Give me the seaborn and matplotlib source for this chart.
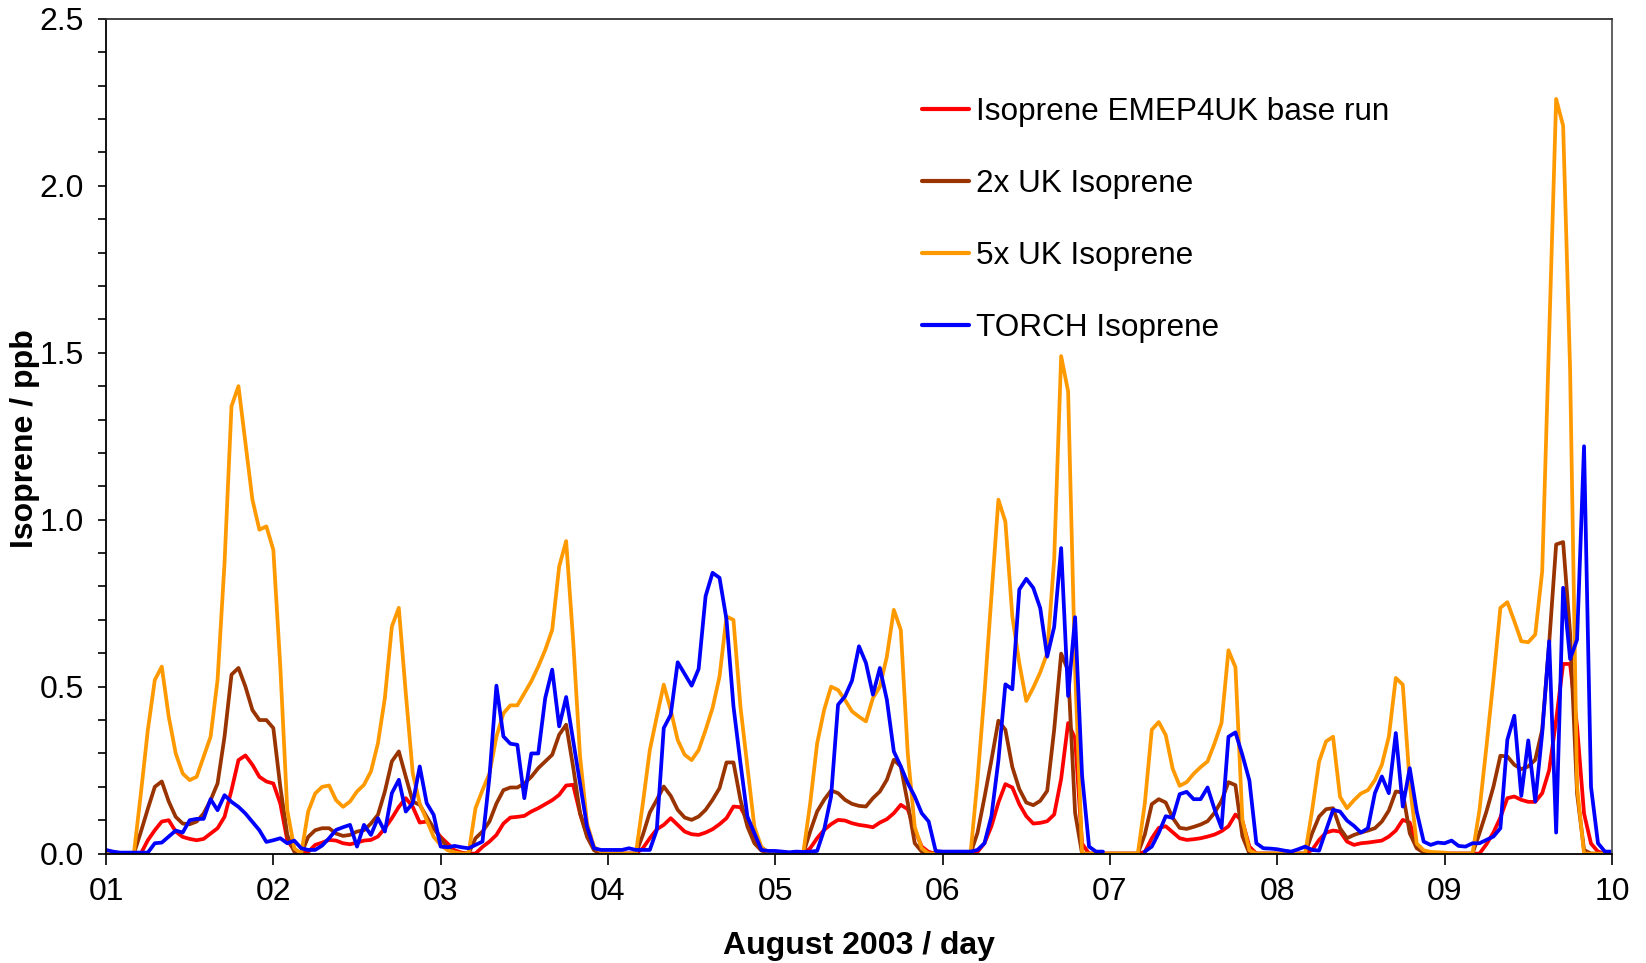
import numpy as np
import pandas as pd
import seaborn as sns
import matplotlib
matplotlib.use("Agg")
import matplotlib.pyplot as plt
from matplotlib.lines import Line2D
from matplotlib.ticker import MultipleLocator, FixedLocator

# Hourly isoprene mixing ratios (ppb), 1 Aug 2003 00:00 to 10 Aug 2003 00:00
hours = np.arange(217)
day_axis = 1 + hours / 24.0

base_run = [
    0, 0, 0, 0, 0, 0, 0.04, 0.07, 0.096, 0.10, 0.066, 0.05, 0.044, 0.04, 0.044, 0.06, 0.076, 0.11, 0.19, 0.28, 0.294, 0.266, 0.23, 0.216,
    0.21, 0.15, 0.04, 0.01, 0, 0.005, 0.026, 0.033, 0.041, 0.039, 0.031, 0.028, 0.033, 0.039, 0.041, 0.051, 0.076, 0.106, 0.14, 0.166, 0.14, 0.093, 0.096, 0.076,
    0.05, 0.03, 0.01, 0.003, 0, 0, 0.02, 0.036, 0.056, 0.09, 0.108, 0.11, 0.113, 0.126, 0.136, 0.148, 0.16, 0.176, 0.204, 0.206, 0.12, 0.056, 0.016, 0.003,
    0, 0, 0, 0, 0, 0.016, 0.046, 0.073, 0.086, 0.106, 0.086, 0.066, 0.058, 0.056, 0.063, 0.073, 0.088, 0.106, 0.141, 0.139, 0.10, 0.046, 0.016, 0.003,
    0, 0, 0, 0, 0, 0.016, 0.046, 0.071, 0.088, 0.101, 0.099, 0.091, 0.086, 0.083, 0.079, 0.093, 0.103, 0.121, 0.146, 0.133, 0.071, 0.021, 0.005, 0,
    0, 0, 0, 0, 0, 0.005, 0.031, 0.082, 0.153, 0.208, 0.198, 0.148, 0.112, 0.09, 0.092, 0.097, 0.117, 0.224, 0.391, 0.345, 0.03, 0, 0, 0,
    0, 0, 0, 0, 0, 0.005, 0.046, 0.077, 0.082, 0.064, 0.046, 0.041, 0.043, 0.046, 0.051, 0.057, 0.067, 0.082, 0.117, 0.097, 0.021, 0, 0, 0,
    0, 0, 0, 0, 0, 0.011, 0.041, 0.063, 0.069, 0.066, 0.036, 0.026, 0.031, 0.033, 0.036, 0.039, 0.051, 0.069, 0.101, 0.093, 0.026, 0.006, 0, 0,
    0, 0, 0, 0, 0, 0, 0.028, 0.063, 0.108, 0.166, 0.171, 0.161, 0.155, 0.155, 0.181, 0.25, 0.40, 0.568, 0.568, 0.38, 0.12, 0.03, 0.006, 0,
    0,
]

uk_x2 = [
    0, 0, 0, 0, 0, 0.065, 0.134, 0.20, 0.216, 0.156, 0.11, 0.09, 0.088, 0.096, 0.12, 0.16, 0.21, 0.35, 0.536, 0.556, 0.50, 0.43, 0.40, 0.40,
    0.376, 0.2, 0.056, 0.006, 0, 0.05, 0.07, 0.076, 0.076, 0.06, 0.053, 0.056, 0.066, 0.07, 0.09, 0.116, 0.186, 0.276, 0.306, 0.23, 0.156, 0.146, 0.11, 0.076,
    0.046, 0.016, 0.003, 0, 0, 0.046, 0.066, 0.096, 0.15, 0.19, 0.198, 0.198, 0.21, 0.23, 0.256, 0.276, 0.296, 0.356, 0.386, 0.26, 0.12, 0.05, 0.01, 0,
    0, 0, 0, 0, 0, 0.056, 0.123, 0.161, 0.201, 0.173, 0.131, 0.108, 0.101, 0.111, 0.131, 0.161, 0.196, 0.273, 0.273, 0.161, 0.081, 0.031, 0.009, 0.002,
    0, 0, 0, 0, 0, 0.066, 0.126, 0.161, 0.189, 0.181, 0.161, 0.149, 0.143, 0.141, 0.166, 0.186, 0.221, 0.281, 0.261, 0.151, 0.031, 0.006, 0, 0,
    0, 0, 0, 0, 0, 0.062, 0.168, 0.28, 0.398, 0.371, 0.259, 0.193, 0.153, 0.145, 0.158, 0.188, 0.371, 0.599, 0.548, 0.122, 0, 0, 0, 0,
    0, 0, 0, 0, 0, 0.057, 0.148, 0.163, 0.153, 0.107, 0.077, 0.074, 0.08, 0.087, 0.097, 0.122, 0.158, 0.214, 0.205, 0.052, 0, 0, 0, 0,
    0, 0, 0, 0, 0, 0.061, 0.111, 0.133, 0.136, 0.076, 0.046, 0.056, 0.063, 0.069, 0.076, 0.096, 0.129, 0.186, 0.183, 0.061, 0.016, 0.003, 0, 0,
    0, 0, 0, 0, 0, 0.061, 0.126, 0.20, 0.293, 0.291, 0.266, 0.253, 0.261, 0.281, 0.371, 0.631, 0.926, 0.933, 0.66, 0.18, 0.011, 0, 0, 0,
    0,
]

uk_x5 = [
    0, 0, 0, 0, 0, 0.18, 0.37, 0.52, 0.56, 0.41, 0.30, 0.24, 0.22, 0.23, 0.29, 0.35, 0.52, 0.87, 1.34, 1.40, 1.23, 1.06, 0.97, 0.98,
    0.91, 0.56, 0.13, 0.016, 0, 0.126, 0.18, 0.20, 0.204, 0.16, 0.14, 0.156, 0.186, 0.206, 0.246, 0.33, 0.466, 0.68, 0.736, 0.48, 0.24, 0.15, 0.10, 0.05,
    0.026, 0.01, 0.004, 0, 0, 0.136, 0.19, 0.24, 0.35, 0.42, 0.444, 0.444, 0.48, 0.516, 0.56, 0.61, 0.67, 0.86, 0.936, 0.64, 0.29, 0.09, 0.02, 0.006,
    0, 0, 0, 0, 0, 0.15, 0.31, 0.41, 0.506, 0.43, 0.34, 0.296, 0.28, 0.31, 0.37, 0.436, 0.53, 0.71, 0.70, 0.44, 0.26, 0.08, 0.02, 0.004,
    0, 0, 0, 0, 0, 0.15, 0.33, 0.43, 0.50, 0.49, 0.46, 0.426, 0.41, 0.396, 0.466, 0.50, 0.59, 0.73, 0.67, 0.30, 0.08, 0.016, 0, 0,
    0, 0, 0, 0, 0, 0.22, 0.48, 0.77, 1.06, 0.994, 0.71, 0.57, 0.457, 0.497, 0.543, 0.60, 0.882, 1.49, 1.384, 0.55, 0, 0, 0, 0,
    0, 0, 0, 0, 0, 0.15, 0.371, 0.394, 0.355, 0.254, 0.203, 0.214, 0.239, 0.259, 0.276, 0.33, 0.391, 0.609, 0.558, 0.10, 0.01, 0, 0, 0,
    0, 0, 0, 0, 0, 0.13, 0.276, 0.336, 0.35, 0.17, 0.136, 0.16, 0.18, 0.19, 0.22, 0.266, 0.35, 0.526, 0.506, 0.21, 0.03, 0.01, 0.005, 0.004,
    0.003, 0, 0, 0, 0, 0.13, 0.32, 0.52, 0.736, 0.753, 0.696, 0.636, 0.633, 0.656, 0.846, 1.55, 2.26, 2.18, 1.45, 0.2, 0, 0, 0, 0,
    0,
]

nan = np.nan
torch_obs = [
    0.011, 0.006, 0.003, 0.003, 0.003, 0.003, 0.003, 0.031, 0.033, 0.051, 0.069, 0.063, 0.10, 0.104, 0.104, 0.163, 0.13, 0.175, 0.155, 0.14, 0.12, 0.095, 0.07, 0.035,
    0.04, 0.046, 0.031, 0.039, 0.016, 0.011, 0.011, 0.024, 0.046, 0.071, 0.079, 0.086, 0.021, 0.086, 0.056, 0.106, 0.066, 0.181, 0.221, 0.126, 0.151, 0.261, 0.151, 0.116,
    0.021, 0.019, 0.023, 0.019, 0.016, 0.026, 0.036, 0.23, 0.503, 0.351, 0.329, 0.326, 0.166, 0.30, 0.30, 0.466, 0.551, 0.381, 0.469, 0.34, 0.21, 0.08, 0.016, 0.011,
    0.011, 0.011, 0.011, 0.016, 0.011, 0.011, 0.011, 0.071, 0.376, 0.416, 0.573, 0.538, 0.503, 0.553, 0.771, 0.841, 0.826, 0.701, 0.441, 0.271, 0.111, 0.061, 0.011, 0.008,
    0.008, 0.006, 0.004, 0.006, 0.005, 0.006, 0.008, 0.071, 0.171, 0.446, 0.471, 0.518, 0.621, 0.571, 0.476, 0.556, 0.461, 0.306, 0.261, 0.211, 0.171, 0.121, 0.096, 0.008,
    0.006, 0.006, 0.006, 0.006, 0.006, 0.011, 0.031, 0.112, 0.279, 0.507, 0.492, 0.791, 0.823, 0.796, 0.735, 0.59, 0.679, 0.915, 0.472, 0.708, 0.234, 0.021, 0.006, 0.006,
    nan, nan, nan, nan, nan, 0.006, 0.021, 0.062, 0.112, 0.107, 0.178, 0.185, 0.163, 0.163, 0.198, 0.133, 0.077, 0.35, 0.363, 0.295, 0.219, 0.031, 0.016, 0.015,
    0.013, 0.009, 0.006, 0.013, 0.021, 0.011, 0.009, 0.07, 0.131, 0.126, 0.099, 0.083, 0.063, 0.076, 0.181, 0.231, 0.181, 0.361, 0.141, 0.256, 0.126, 0.036, 0.026, 0.033,
    0.031, 0.039, 0.023, 0.021, 0.031, 0.031, 0.041, 0.051, 0.076, 0.341, 0.413, 0.173, 0.339, 0.156, 0.361, 0.636, 0.063, 0.796, 0.583, 0.641, 1.22, 0.2, 0.031, 0.006,
    0.006,
]

series_labels = ["Isoprene EMEP4UK base run", "2x UK Isoprene", "5x UK Isoprene", "TORCH Isoprene"]
series_values = [base_run, uk_x2, uk_x5, torch_obs]
series_colors = ["#FF0000", "#993300", "#FF9900", "#0000FF"]

x_tick_labels = ["01", "02", "03", "04", "05", "06", "07", "08", "09", "10"]
y_tick_labels = ["0.0", "0.5", "1.0", "1.5", "2.0", "2.5"]

frames = []
for label, vals in zip(series_labels, series_values):
    v = np.asarray(vals, dtype=float)
    # separate unbroken runs so that gaps in the record stay open
    seg = np.cumsum(np.isnan(v))
    frames.append(pd.DataFrame({"day": day_axis, "ppb": v, "series": label, "segment": seg}))
data = pd.concat(frames, ignore_index=True).dropna(subset=["ppb"])

sns.set_theme(style="white")
plt.rcParams["font.family"] = ["Liberation Sans", "DejaVu Sans"]
plt.rcParams["text.color"] = "black"
plt.rcParams["axes.labelcolor"] = "black"

fig = plt.figure(figsize=(16.46, 9.63), dpi=100)
ax = fig.add_axes([0.0644, 0.1136, 0.9149, 0.8668])

for label, color in zip(series_labels, series_colors):
    sub = data[data["series"] == label]
    sns.lineplot(data=sub, x="day", y="ppb", units="segment", estimator=None,
                 color=color, linewidth=2.7, sort=False, ax=ax, legend=False)

ax.set_xlim(1, 10)
ax.set_ylim(0, 2.5)
ax.xaxis.set_major_locator(FixedLocator(range(1, 11)))
ax.set_xticklabels(x_tick_labels)
ax.yaxis.set_major_locator(FixedLocator([0, 0.5, 1.0, 1.5, 2.0, 2.5]))
ax.set_yticklabels(y_tick_labels)
ax.yaxis.set_minor_locator(MultipleLocator(0.1))

ax.tick_params(axis="both", which="major", direction="out", length=6, width=1.2,
               color="black", labelsize=23, labelcolor="black")
ax.tick_params(axis="y", which="major", pad=10, left=True)
ax.tick_params(axis="x", which="major", pad=9, bottom=True, length=8)
ax.tick_params(axis="y", which="minor", direction="out", length=6, width=1.2, left=True, color="black")

for side in ["left", "bottom", "top", "right"]:
    ax.spines[side].set_visible(True)
    ax.spines[side].set_color("black")
    ax.spines[side].set_linewidth(1.3)
ax.spines["top"].set_color("#333333")
ax.spines["right"].set_color("#555555")

ax.set_xlabel("August 2003 / day", fontsize=23, fontweight="bold", labelpad=17, color="black")
ax.set_ylabel("Isoprene / ppb", fontsize=23, fontweight="bold", color="black")
ax.yaxis.set_label_coords(-0.0435, 0.497)

handles = [Line2D([0], [0], color=c, linewidth=3) for c in series_colors]
leg = ax.legend(handles, series_labels, loc="upper left", bbox_to_anchor=(0.5416, 0.906),
                frameon=False, fontsize=22.7, handlelength=1.49, handletextpad=0.23,
                labelspacing=1.33, borderpad=0, borderaxespad=0)
for t in leg.get_texts():
    t.set_color("black")

fig.savefig("out.png", dpi=100, facecolor="white")
